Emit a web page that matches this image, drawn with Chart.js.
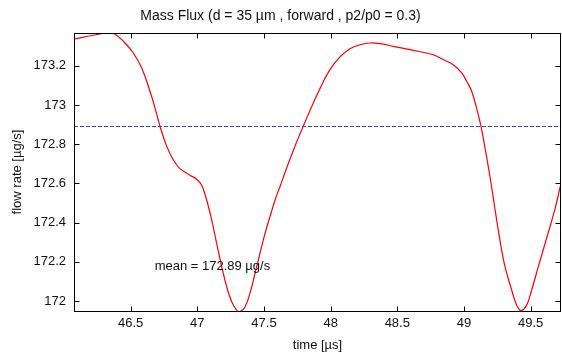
<!DOCTYPE html>
<html>
<head>
<meta charset="utf-8">
<script src="https://cdn.jsdelivr.net/npm/chart.js@4/dist/chart.umd.min.js"></script>
<style>
  html, body { margin: 0; padding: 0; background: #fff; }
  #wrap { width: 562px; height: 353px; }
</style>
</head>
<body>
<div id="wrap"><canvas id="flux" width="562" height="353"></canvas></div>
<script>
  // time axis [µs] and mass flow rate [µg/s]
  const timeUs = [
    46.075, 46.17, 46.27, 46.33, 46.38, 46.445, 46.52, 46.583, 46.645, 46.683,
    46.72, 46.77, 46.82, 46.87, 46.945, 46.995, 47.033, 47.07, 47.108, 47.145,
    47.183, 47.22, 47.258, 47.295, 47.32, 47.358, 47.395, 47.433, 47.47, 47.508,
    47.545, 47.583, 47.62, 47.67, 47.72, 47.77, 47.8, 47.87, 47.933, 47.995,
    48.07, 48.145, 48.22, 48.295, 48.383, 48.47, 48.595, 48.77, 48.845, 48.92,
    48.983, 49.02, 49.058, 49.095, 49.128, 49.158, 49.195, 49.233, 49.27, 49.308,
    49.358, 49.395, 49.428, 49.47, 49.508, 49.558, 49.62, 49.683, 49.728
  ];
  const flowRate = [
    173.336, 173.349, 173.362, 173.37, 173.362, 173.325, 173.265, 173.188, 173.07, 172.984,
    172.891, 172.79, 172.72, 172.675, 172.642, 172.621, 172.591, 172.515, 172.413, 172.294,
    172.175, 172.073, 171.996, 171.954, 171.946, 171.971, 172.039, 172.141, 172.243, 172.345,
    172.43, 172.515, 172.583, 172.678, 172.768, 172.852, 172.9, 173.01, 173.102, 173.18,
    173.245, 173.287, 173.307, 173.316, 173.312, 173.299, 173.282, 173.256, 173.231, 173.205,
    173.163, 173.121, 173.07, 172.984, 172.891, 172.78, 172.635, 172.468, 172.311, 172.175,
    172.056, 171.979, 171.951, 171.979, 172.056, 172.175, 172.32, 172.47, 172.6
  ];
  const meanValue = 172.89;
  const meanLabelAt = [46.68, 172.178];

  const xTicks = [46.5, 47, 47.5, 48, 48.5, 49, 49.5];
  const yTicks = [172, 172.2, 172.4, 172.6, 172.8, 173, 173.2];
  const xRange = [46.075, 49.728];
  const yRange = [171.949, 173.367];

  const FONT = "'Liberation Sans', Arial, sans-serif";
  const INK = "#111";

  // frame with inward tick marks on all four sides, plus the mean annotation
  const framePlugin = {
    id: "frame",
    afterDraw(chart) {
      const { ctx, chartArea: a, scales } = chart;
      const L = a.left + 0.5, R = a.right - 0.5, T = a.top + 0.5, B = a.bottom + 0.5;
      const len = 5;
      ctx.save();
      ctx.strokeStyle = "#000";
      ctx.lineWidth = 1;
      ctx.strokeRect(L, T, R - L, B - T);
      ctx.beginPath();
      xTicks.forEach((v) => {
        const px = Math.round(scales.x.getPixelForValue(v)) + 0.5;
        ctx.moveTo(px, B); ctx.lineTo(px, B - len);
        ctx.moveTo(px, T); ctx.lineTo(px, T + len);
      });
      yTicks.forEach((v) => {
        const py = Math.round(scales.y.getPixelForValue(v)) + 0.5;
        ctx.moveTo(L, py); ctx.lineTo(L + len, py);
        ctx.moveTo(R, py); ctx.lineTo(R - len, py);
      });
      ctx.stroke();

      ctx.fillStyle = INK;
      ctx.font = "13px " + FONT;
      ctx.textAlign = "left";
      ctx.textBaseline = "middle";
      ctx.fillText(
        "mean = " + meanValue.toFixed(2) + " µg/s",
        scales.x.getPixelForValue(meanLabelAt[0]),
        scales.y.getPixelForValue(meanLabelAt[1])
      );
      ctx.restore();
    },
  };

  new Chart(document.getElementById("flux"), {
    type: "line",
    data: {
      datasets: [
        {
          data: timeUs.map((t, i) => ({ x: t, y: flowRate[i] })),
          borderColor: "#ff0000",
          borderWidth: 1.2,
          pointRadius: 0,
          tension: 0.4,
        },
        {
          data: [
            { x: xRange[0], y: meanValue },
            { x: xRange[1], y: meanValue },
          ],
          borderColor: "#3a3aff",
          borderWidth: 1,
          borderDash: [4, 2],
          pointRadius: 0,
        },
      ],
    },
    options: {
      responsive: false,
      animation: false,
      layout: { padding: { left: 0, right: 1, top: 0, bottom: 0 } },
      plugins: {
        legend: { display: false },
        tooltip: { enabled: false },
        title: {
          display: true,
          text: "Mass Flux (d = 35 µm , forward , p2/p0 = 0.3)",
          color: INK,
          font: { family: FONT, size: 14, weight: "normal", lineHeight: 1.2 },
          padding: { top: 8, bottom: 8.2 },
        },
      },
      scales: {
        x: {
          type: "linear",
          min: xRange[0],
          max: xRange[1],
          afterFit: (s) => { s.height = 42; },
          afterBuildTicks: (s) => { s.ticks = xTicks.map((v) => ({ value: v })); },
          grid: { display: false, drawTicks: false },
          border: { display: false },
          ticks: {
            color: INK,
            padding: 5,
            maxRotation: 0,
            font: { family: FONT, size: 13 },
            callback: (v) => String(Math.round(v * 10) / 10),
          },
          title: {
            display: true,
            text: "time [µs]",
            color: INK,
            font: { family: FONT, size: 13, lineHeight: 1.2 },
            padding: { top: 0, bottom: 0 },
          },
        },
        y: {
          type: "linear",
          min: yRange[0],
          max: yRange[1],
          afterFit: (s) => { s.width = 74; },
          afterBuildTicks: (s) => { s.ticks = yTicks.map((v) => ({ value: v })); },
          grid: { display: false, drawTicks: false },
          border: { display: false },
          ticks: {
            color: INK,
            padding: 8,
            font: { family: FONT, size: 13 },
            callback: (v) => String(Math.round(v * 10) / 10),
          },
          title: {
            display: true,
            text: "flow rate [µg/s]",
            color: INK,
            font: { family: FONT, size: 13, lineHeight: 1.2 },
            padding: { top: 9.5, bottom: 0 },
          },
        },
      },
    },
    plugins: [framePlugin],
  });
</script>
</body>
</html>
